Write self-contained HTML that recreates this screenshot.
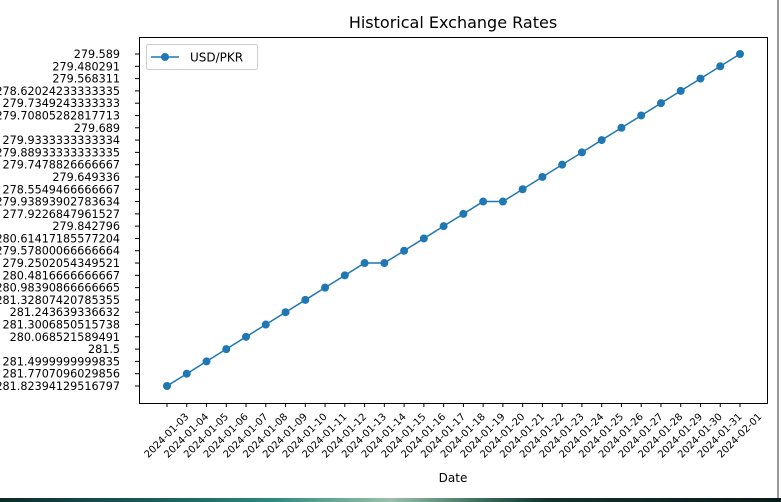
<!DOCTYPE html>
<html><head><meta charset="utf-8"><style>
html,body{margin:0;padding:0;background:#fff;width:781px;height:502px;overflow:hidden}
text{font-family:"DejaVu Sans","Liberation Sans",sans-serif;fill:#000}
</style></head><body>
<svg width="781" height="502" viewBox="0 0 781 502" xmlns="http://www.w3.org/2000/svg">
<rect x="0" y="0" width="781" height="502" fill="#fff"/>
<defs><linearGradient id="g" x1="0" x2="1" y1="0" y2="0">
<stop offset="0" stop-color="#0d2a2a"/><stop offset="0.25" stop-color="#1f6b66"/><stop offset="0.35" stop-color="#2e8a80"/><stop offset="0.5" stop-color="#9cc0a8"/><stop offset="0.62" stop-color="#3a6a5a"/><stop offset="0.7" stop-color="#123030"/><stop offset="1" stop-color="#0a1a1a"/></linearGradient></defs>
<rect x="0" y="498" width="781" height="4" fill="url(#g)"/>
<line x1="778" y1="0" x2="778" y2="498" stroke="#333" stroke-width="1"/>
<text x="453" y="28" font-size="16" text-anchor="middle">Historical Exchange Rates</text>
<rect x="139.5" y="37.5" width="628" height="366" fill="none" stroke="#000" stroke-width="1"/>
<g id="yt" font-size="11.2" text-anchor="end"></g>
<g id="xt" font-size="10"></g>
<text x="453" y="482" font-size="12" text-anchor="middle">Date</text>
<g id="ser"></g>
<rect x="146.5" y="44.5" width="111" height="25" rx="2" fill="#fff" stroke="#ccc"/>
<line x1="151" y1="57" x2="179" y2="57" stroke="#1f77b4" stroke-width="1.5"/>
<circle cx="165" cy="57" r="4" fill="#1f77b4"/>
<text x="190" y="61.5" font-size="12">USD/PKR</text>
</svg>
<script>
var ylabs=["281.82394129516797","281.7707096029856","281.4999999999835","281.5","280.068521589491","281.3006850515738","281.243639336632","281.32807420785355","280.98390866666665","280.4816666666667","279.2502054349521","279.57800066666664","280.61417185577204","279.842796","277.9226847961527","279.93893902783634","278.5549466666667","279.649336","279.7478826666667","279.88933333333335","279.9333333333334","279.689","279.70805282817713","279.7349243333333","278.62024233333335","279.568311","279.480291","279.589"];
var ns="http://www.w3.org/2000/svg";
function el(t,a,p,txt){var e=document.createElementNS(ns,t);for(var k in a)e.setAttribute(k,a[k]);if(txt)e.textContent=txt;p.appendChild(e);return e;}
var yt=document.getElementById('yt'),svg=document.querySelector('svg');
function Y(i){return 386-i*(332/27);}
ylabs.forEach(function(l,i){var y=Y(i);el('line',{x1:135,x2:139,y1:y,y2:y,stroke:'#000','stroke-width':1},svg);el('text',{x:120,y:y+4},yt,l);});
var xt=document.getElementById('xt');
var cats=[0,1,2,3,4,5,6,7,8,9,10,10,11,12,13,14,15,15,16,17,18,19,20,21,22,23,24,25,26,27];
var pts=[];
for(var i=0;i<30;i++){var x=167+i*(573/29);var d=new Date(Date.UTC(2024,0,3+i));var s=d.toISOString().slice(0,10);
el('line',{x1:x,x2:x,y1:403,y2:407,stroke:'#000','stroke-width':1},svg);
el('text',{x:x,y:436,'text-anchor':'middle','dominant-baseline':'central',transform:'rotate(-45 '+x+' 436)'},xt,s);
pts.push([x,Y(cats[i])]);}
var ser=document.getElementById('ser');
el('polyline',{points:pts.map(function(p){return p.join(',')}).join(' '),fill:'none',stroke:'#1f77b4','stroke-width':1.5},ser);
pts.forEach(function(p){el('circle',{cx:p[0],cy:p[1],r:4,fill:'#1f77b4'},ser);});
</script>
</body></html>
